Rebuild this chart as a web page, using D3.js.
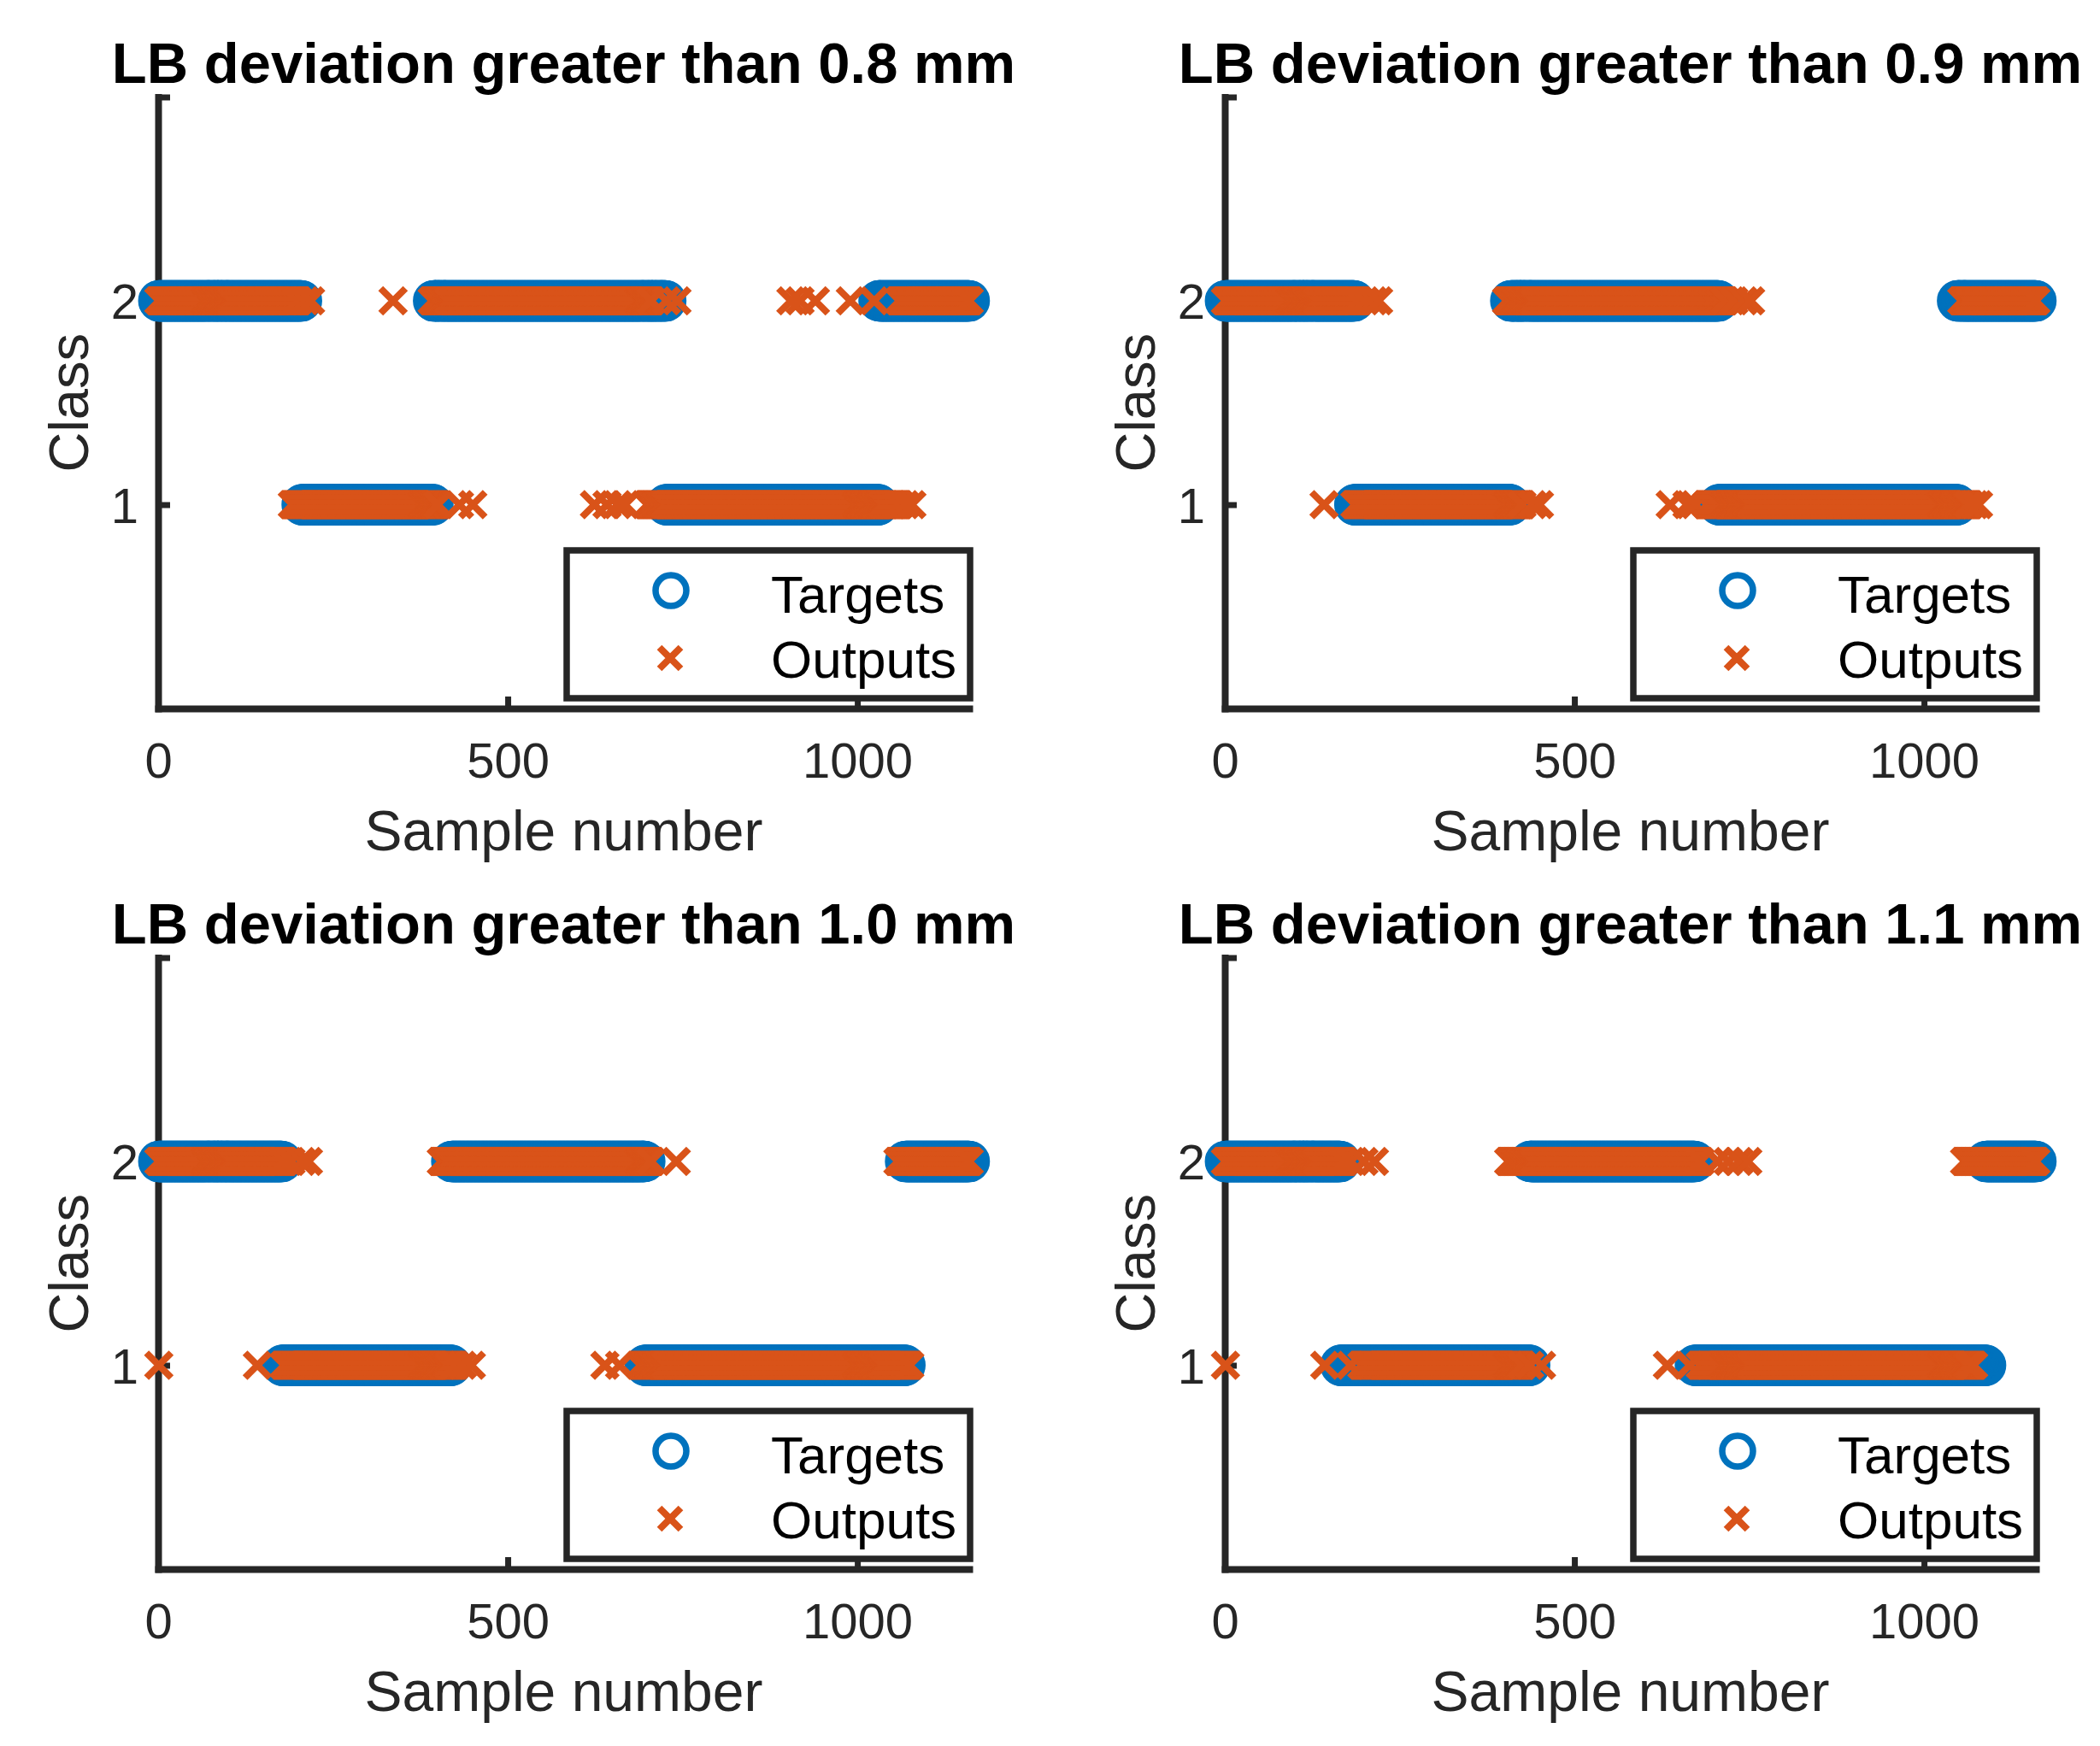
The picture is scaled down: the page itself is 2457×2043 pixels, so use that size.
<!DOCTYPE html>
<html>
<head>
<meta charset="utf-8">
<script src="https://cdn.jsdelivr.net/npm/d3@7"></script>
<style>
  body { margin: 0; background: #fff; }
  text { font-family: "Liberation Sans", Arial, Helvetica, sans-serif; }
</style>
</head>
<body>
<div id="chart"></div>
<script>
// Thresholds shown in the four panel titles
var thresholds = ["0.8", "0.9", "1.0", "1.1"]

// Runs of samples: [first sample, last sample, class]
var targets08 = [[1,205,2],[206,393,1],[394,726,2],[727,1030,1],[1031,1160,2]]
var outputs08 = [[1,200,2],[210,210,2],[218,218,2],[336,336,2],[392,705,2],[727,727,2],[742,742,2],
                 [905,905,2],[918,918,2],[940,940,2],[990,990,2],[1024,1024,2],[1060,1160,2],
                 [192,400,1],[431,431,1],[450,450,1],[624,624,1],[642,642,1],[657,657,1],[668,668,1],
                 [700,1060,1],[1068,1068,1],[1078,1078,1]]

var targets09 = [[1,185,2],[186,408,1],[409,706,2],[707,1047,1],[1048,1160,2]]
var outputs09 = [[1,190,2],[200,200,2],[212,212,2],[220,220,2],[403,715,2],[728,728,2],[742,742,2],
                 [752,752,2],[1054,1160,2],
                 [142,142,1],[186,425,1],[440,440,1],[450,450,1],[637,637,1],[661,661,1],[673,673,1],
                 [690,1065,1],[1072,1072,1],[1078,1078,1]]

var targets10 = [[1,177,2],[178,419,1],[420,696,2],[697,1068,1],[1069,1160,2]]
var outputs10 = [[1,180,2],[190,190,2],[205,205,2],[215,215,2],[405,705,2],[741,741,2],[1058,1160,2],
                 [1,1,1],[142,142,1],[180,425,1],[435,435,1],[448,448,1],[639,639,1],[660,660,1],
                 [690,1075,1]]

var targets11 = [[1,165,2],[166,436,1],[437,672,2],[673,1088,1],[1089,1160,2]]
var outputs11 = [[1,170,2],[180,180,2],[199,199,2],[214,214,2],[406,680,2],[705,705,2],[720,720,2],
                 [735,735,2],[748,748,2],[1058,1160,2],
                 [1,1,1],[143,143,1],[180,180,1],[196,425,1],[436,436,1],[453,453,1],[633,633,1],
                 [665,665,1],[680,1071,1]]

var xTicks = [0, 500, 1000]
var yTicks = [1, 2, 3]
var legendLabels = ["Targets", "Outputs"]

var panelTargets = [targets08, targets09, targets10, targets11]
var panelOutputs = [outputs08, outputs09, outputs10, outputs11]

// Layout
var width = 2457
var height = 2043
var blue = "#0072BD"
var orange = "#D95319"
var axisColor = "#262626"
var panel_dx = 1248
var panel_dy = 1007

var svg = d3.select("#chart")
            .append("svg")
            .attr("width", width)
            .attr("height", height)

svg.append("rect")
  .attr("width", width)
  .attr("height", height)
  .attr("fill", "#fff")

// Scales are shared by every panel (same limits)
var xscale = d3.scaleLinear()
               .domain([0, 1160])
               .range([185, 1134])

var yscale = d3.scaleLinear()
               .domain([0, 3])
               .range([829, 113.5])

var crossPath = function(h){
  return "M" + (-h) + "," + (-h) + "L" + h + "," + h + "M" + (-h) + "," + h + "L" + h + "," + (-h)
}

// Turn runs into one point per sample
var expand = function(runs){
  var pts = []
  runs.forEach(function(r){
    for(var s = r[0]; s <= r[1]; s++) pts.push({x: s, c: r[2]})
  })
  return pts
}

var drawPanel = function(i){
  var g = svg.append("g")
             .attr("transform", "translate(" + (i % 2) * panel_dx + "," + Math.floor(i / 2) * panel_dy + ")")

  var xmid = (xscale.range()[0] + xscale.range()[1]) / 2

  // Title
  g.append("text")
    .attr("x", xmid)
    .attr("y", 97)
    .attr("text-anchor", "middle")
    .style("font-size", "67px")
    .style("font-weight", "bold")
    .style("fill", "#000")
    .text("LB deviation greater than " + thresholds[i] + " mm")

  // Axes, ticks pointing inward
  var xaxis = d3.axisBottom(xscale)
                .tickValues(xTicks)
                .tickSizeInner(-14)
                .tickSizeOuter(0)
                .tickPadding(40)
                .tickFormat(d3.format("d"))

  var yaxis = d3.axisLeft(yscale)
                .tickValues(yTicks)
                .tickSizeInner(-14)
                .tickSizeOuter(0)
                .tickPadding(23)
                .tickFormat(function(d){ return d === 3 ? "" : d })

  var gx = g.append("g")
            .attr("transform", "translate(0," + yscale(0) + ")")
            .call(xaxis)

  var gy = g.append("g")
            .attr("transform", "translate(" + xscale(0) + ",0)")
            .call(yaxis)

  ;[gx, gy].forEach(function(ax){
    ax.select(".domain")
      .attr("stroke", axisColor)
      .attr("stroke-width", 8)
      .attr("stroke-linecap", "square")
    ax.selectAll(".tick line")
      .attr("stroke", axisColor)
      .attr("stroke-width", 7)
    ax.selectAll(".tick text")
      .attr("fill", axisColor)
      .style("font-size", "58px")
      .style("font-family", "'Liberation Sans', Arial, sans-serif")
  })
  gy.selectAll(".tick text").attr("dy", "0.36em")

  // Axis labels
  g.append("text")
    .attr("x", xmid)
    .attr("y", 995)
    .attr("text-anchor", "middle")
    .style("font-size", "66px")
    .style("fill", axisColor)
    .text("Sample number")

  g.append("text")
    .attr("transform", "translate(103," + yscale(1.5) + ") rotate(-90)")
    .attr("text-anchor", "middle")
    .style("font-size", "65px")
    .style("fill", axisColor)
    .text("Class")

  // Targets (circles) then outputs (crosses) on top
  g.append("g").selectAll("circle")
    .data(expand(panelTargets[i]))
    .enter()
    .append("circle")
    .attr("cx", function(d){ return xscale(d.x) })
    .attr("cy", function(d){ return yscale(d.c) })
    .attr("r", 20.5)
    .attr("fill", "none")
    .attr("stroke", blue)
    .attr("stroke-width", 7.5)

  g.append("g").selectAll("path")
    .data(expand(panelOutputs[i]))
    .enter()
    .append("path")
    .attr("transform", function(d){ return "translate(" + xscale(d.x) + "," + yscale(d.c) + ")" })
    .attr("d", crossPath(14.5))
    .attr("fill", "none")
    .attr("stroke", orange)
    .attr("stroke-width", 8)

  // Legend
  var lg = g.append("g").attr("transform", "translate(663,644)")
  lg.append("rect")
    .attr("width", 472)
    .attr("height", 173)
    .attr("fill", "#fff")
    .attr("stroke", axisColor)
    .attr("stroke-width", 7.5)

  lg.append("circle")
    .attr("cx", 122)
    .attr("cy", 47)
    .attr("r", 18)
    .attr("fill", "none")
    .attr("stroke", blue)
    .attr("stroke-width", 7.5)

  lg.append("path")
    .attr("transform", "translate(121,126)")
    .attr("d", crossPath(12.5))
    .attr("fill", "none")
    .attr("stroke", orange)
    .attr("stroke-width", 8)

  lg.selectAll("text.legend")
    .data(legendLabels)
    .enter()
    .append("text")
    .attr("class", "legend")
    .attr("x", 239)
    .attr("y", function(d, k){ return 73 + k * 76 })
    .style("font-size", "62px")
    .style("fill", "#000")
    .text(function(d){ return d })
}

for(var i = 0; i < 4; i++) drawPanel(i)
</script>
</body>
</html>
